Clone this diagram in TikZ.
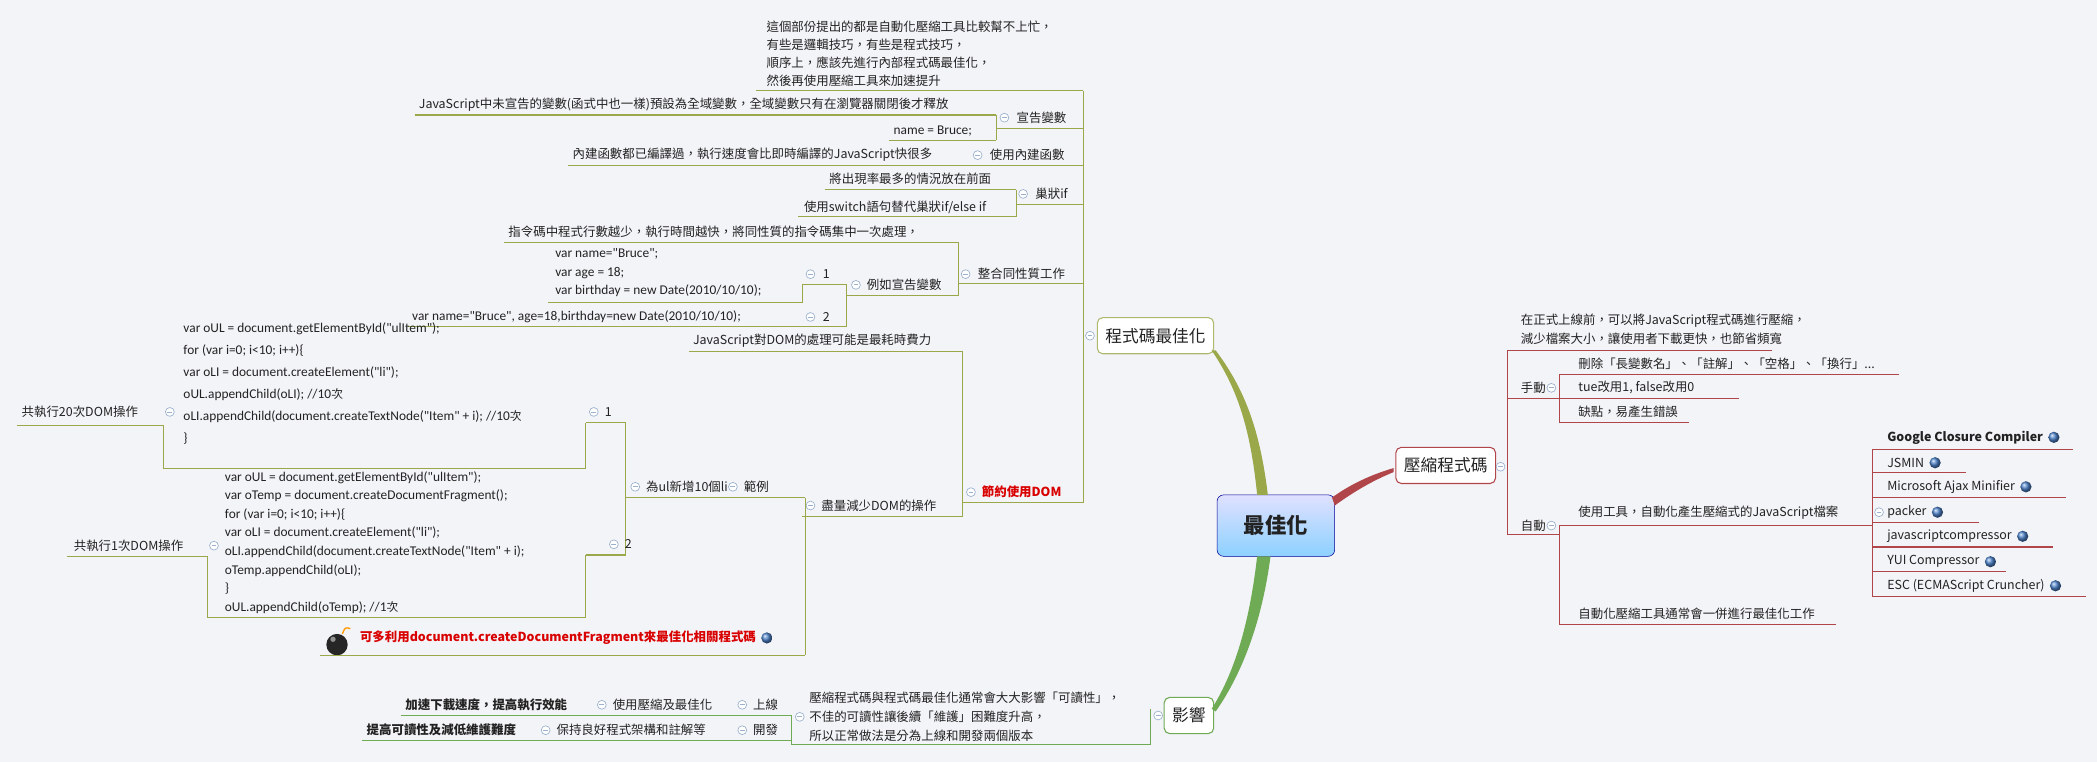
\documentclass[tikz,border=0pt]{standalone}
\usepackage{fontspec}
\setmainfont{Noto Sans CJK TC}
\newfontfamily\codef{Carlito}
\usetikzlibrary{shapes.geometric}
\definecolor{bg}{HTML}{F3F4F8}
\definecolor{olv}{HTML}{9AA84A}
\definecolor{drd}{HTML}{B0464A}
\definecolor{grn}{HTML}{6FAA55}
\definecolor{tg}{HTML}{9AB0CC}
\definecolor{txt}{HTML}{222222}
\newcommand{\dq}{\char34\relax}
\newcommand{\ci}{{\fontspec{Noto Sans CJK TC}\fontsize{8.8}{10}\selectfont 次}}
\tikzset{
 t/.style={anchor=west,inner sep=0pt,font=\fontsize{9.3}{10}\selectfont,text=txt},
 tb/.style={t,font=\fontsize{9.3}{10}\selectfont\bfseries},
 code/.style={t,align=left,font=\codef\fontsize{10}{14}\selectfont},
 ol/.style={draw=olv,line width=0.8pt},
 rl/.style={draw=drd,line width=0.8pt},
 gl/.style={draw=grn,line width=0.8pt},
 topic/.style={draw,rounded corners=4pt,fill=white,line width=0.8pt,minimum height=27pt,inner xsep=6pt,font=\fontsize{12.5}{14}\selectfont,text=txt},
}
\newcommand{\tog}[2]{\draw[tg,fill=white,line width=0.5pt] (#1,#2) circle (3.3);\draw[tg,line width=0.6pt] (#1-1.8,#2)--(#1+1.8,#2);}
\newcommand{\globeat}[1]{\shade[ball color=teal!60!blue!70] ([xshift=8pt]#1.east) circle (4.2);}
\begin{document}
\begin{tikzpicture}[x=1pt,y=-1pt]
\useasboundingbox[fill=bg] (0,0) rectangle (1568,570);
% central
\node[draw=blue!60!black,rounded corners=5pt,top color=blue!12,bottom color=blue!40!cyan!45,minimum width=88pt,minimum height=46pt,font=\fontsize{16}{18}\selectfont\bfseries,text=txt] (root) at (954,393) {最佳化};
\node[topic,draw=olv!80] (opt) at (864,251) {程式碼最佳化};
\node[topic,draw=drd] (cmp) at (1081,348) {壓縮程式碼};
\node[topic,draw=grn] (imp) at (889,535) {影響};
\fill[olv] (940,370) .. controls (935,320) and (925,290) .. (906,262) -- (909,262) .. controls (930,290) and (942,320) .. (948,370) -- cycle;
\fill[drd] (996,372) .. controls (1010,362) and (1025,355) .. (1042,350) -- (1042,353) .. controls (1025,360) and (1012,368) .. (998,378) -- cycle;
\fill[grn] (940,416) .. controls (935,460) and (925,500) .. (906,530) -- (909,532) .. controls (930,502) and (944,462) .. (950,416) -- cycle;

% ---------- 程式碼最佳化 branch ----------
\draw[ol] (810,68)--(810,376);
\tog{815}{251}
\node[t,align=left,font=\fontsize{9.3}{13.5}\selectfont] (note1) at (573,40) {這個部份提出的都是自動化壓縮工具比較幫不上忙，\\有些是邏輯技巧，有些是程式技巧，\\順序上，應該先進行內部程式碼最佳化，\\然後再使用壓縮工具來加速提升};
\draw[ol] (565,68)--(810,68);
% 宣告變數
\tog{751}{88}
\node[t] (decl) at (760,88) {宣告變數};
\draw[ol] (745,96)--(810,96);
\draw[ol] (745,86)--(745,105);
\node[t] (jsvar) at (313,78) {JavaScript中未宣告的變數(函式中也一樣)預設為全域變數，全域變數只有在瀏覽器關閉後才釋放};
\draw[ol] (310,86)--(745,86);
\node[code] (nameb) at (668,98) {name = Bruce;};
\draw[ol] (665,105)--(745,105);
% 使用內建函數
\tog{731}{116}
\node[t] (builtin) at (740,116) {使用內建函數};
\node[t] (bt1) at (428,116) {內建函數都已編譯過，執行速度會比即時編譯的JavaScript快很多};
\draw[ol] (425,124)--(810,124);
% 巢狀if
\tog{765}{145}
\node[t] (nif) at (774,145) {巢狀if};
\draw[ol] (760,153)--(810,153);
\draw[ol] (760,142)--(760,162);
\node[t] (if1) at (620,134) {將出現率最多的情況放在前面};
\draw[ol] (617,142)--(760,142);
\node[t] (if2) at (601,155) {使用switch語句替代巢狀if/else if};
\draw[ol] (597,162)--(760,162);
% 整合同性質工作
\tog{722}{205}
\node[t] (same) at (731,205) {整合同性質工作};
\draw[ol] (717,212)--(810,212);
\draw[ol] (717,181)--(717,221);
\node[t] (s1) at (380,173) {指令碼中程式行數越少，執行時間越快，將同性質的指令碼集中一次處理，};
\draw[ol] (377,181)--(717,181);
\tog{640}{213}
\node[t] (ex) at (648,213) {例如宣告變數};
\draw[ol] (633,221)--(717,221);
\draw[ol] (633,213)--(633,244);
\tog{606}{205}
\node[t] (e1) at (615,205) {1};
\draw[ol] (600,213)--(633,213);
\node[code] (c1) at (415,204) {var name=\dq Bruce\dq;\\var age = 18;\\var birthday = new Date(2010/10/10);};
\draw[ol] (410,226)--(600,226)--(600,213);
\tog{606}{237}
\node[t] (e2) at (615,237) {2};
\draw[ol] (600,244)--(633,244);
\node[code] (c2) at (308,237) {var name=\dq Bruce\dq, age=18,birthday=new Date(2010/10/10);};
\draw[ol] (305,244)--(600,244);
% 節約使用DOM
\draw[ol] (720,263)--(720,386);
\node[t] (dom0) at (518,255) {JavaScript對DOM的處理可能是最耗時費力};
\draw[ol] (515,263)--(720,263);
\tog{726}{368}
\node[tb,text=red!85!black] (dom) at (734,368) {節約使用DOM};
\draw[ol] (720,376)--(810,376);
\tog{606}{378}
\node[t] (less) at (614,378) {盡量減少DOM的操作};
\draw[ol] (600,386)--(720,386);
\draw[ol] (602,372)--(602,490);
\tog{548}{364}
\node[t] (fl) at (556,364) {範例};
\draw[ol] (540,372)--(602,372);
\tog{475}{364}
\node[t] (ul) at (483,364) {為ul新增10個li};
\draw[ol] (468,372)--(540,372);
\draw[ol] (468,316)--(468,415);
\tog{444}{308}
\node[t] (d1) at (452,308) {1};
\draw[ol] (438,316)--(468,316);
\node[code,font=\codef\fontsize{10}{16.5}\selectfont] (cb1) at (137,287) {var oUL = document.getElementById(\dq ulItem\dq);\\for (var i=0; i<10; i++)\{\\var oLI = document.createElement(\dq li\dq);\\ oUL.appendChild(oLI); //10\ci\\oLI.appendChild(document.createTextNode(\dq Item\dq{} + i); //10\ci\\\}};
\draw[ol] (438,316)--(438,350)--(122,350)--(122,318);
\tog{127}{308}
\node[t] (n20) at (16,308) {共執行20次DOM操作};
\draw[ol] (13,318)--(122,318);
\tog{459}{407}
\node[t] (d2) at (467,407) {2};
\draw[ol] (438,415)--(468,415);
\node[code,font=\codef\fontsize{10}{13.9}\selectfont] (cb2) at (168,405.5) {var oUL = document.getElementById(\dq ulItem\dq);\\var oTemp = document.createDocumentFragment();\\for (var i=0; i<10; i++)\{\\var oLI = document.createElement(\dq li\dq);\\oLI.appendChild(document.createTextNode(\dq Item\dq{} + i);\\ oTemp.appendChild(oLI);\\\}\\oUL.appendChild(oTemp); //1\ci};
\draw[ol] (438,415)--(438,462)--(155,462)--(155,416);
\tog{160}{408}
\node[t] (n1) at (55,408) {共執行1次DOM操作};
\draw[ol] (50,416)--(155,416);
% bomb note
\fill[black!85] (252,482) circle (8);
\fill[white,opacity=.5] (249,478) circle (2);
\draw[orange!80!yellow,line width=1pt] (256,474) .. controls (258,469) .. (262,470);
\node[tb,text=red!85!black] (frag) at (269,477) {可多利用document.createDocumentFragment來最佳化相關程式碼};
\globeat{frag}
\draw[ol] (239,490)--(602,490);

% ---------- 壓縮程式碼 branch ----------
\tog{1122}{349}
\draw[rl] (1127,262)--(1127,400);
\node[t,align=left,font=\fontsize{9.3}{14}\selectfont] (cn) at (1137,246) {在正式上線前，可以將JavaScript程式碼進行壓縮，\\減少檔案大小，讓使用者下載更快，也節省頻寬};
\draw[rl] (1127,262)--(1325,262);
\node[t] (man) at (1137,290) {手動};
\tog{1160}{290}
\draw[rl] (1127,298)--(1166,298);
\draw[rl] (1166,280)--(1166,316);
\node[t] (m1) at (1180,272) {刪除「長變數名」、「註解」、「空格」、「換行」...};
\draw[rl] (1166,280)--(1420,280);
\node[t] (m2) at (1180,290) {tue改用1, false改用0};
\draw[rl] (1166,298)--(1300,298);
\node[t] (m3) at (1180,308) {缺點，易產生錯誤};
\draw[rl] (1166,316)--(1263,316);
\node[t] (auto) at (1137,393) {自動};
\tog{1160}{393}
\draw[rl] (1127,400)--(1166,400);
\draw[rl] (1166,393)--(1166,467);
\node[t] (a1) at (1180,383) {使用工具，自動化產生壓縮式的JavaScript檔案};
\tog{1405}{383}
\draw[rl] (1166,393)--(1400,393);
\draw[rl] (1400,336)--(1400,446);
\node[tb] (g1) at (1411,327) {Google Closure Compiler};
\globeat{g1}
\draw[rl] (1400,336)--(1550,336);
\node[t] (g2) at (1411,346) {JSMIN};
\globeat{g2}
\draw[rl] (1400,353)--(1470,353);
\node[t] (g3) at (1411,364) {Microsoft Ajax Minifier};
\globeat{g3}
\draw[rl] (1400,372)--(1545,372);
\node[t] (g4) at (1411,383) {packer};
\globeat{g4}
\draw[rl] (1400,391)--(1480,391);
\node[t] (g5) at (1411,401) {javascriptcompressor};
\globeat{g5}
\draw[rl] (1400,409)--(1535,409);
\node[t] (g6) at (1411,420) {YUI Compressor};
\globeat{g6}
\draw[rl] (1400,427)--(1500,427);
\node[t] (g7) at (1411,438) {ESC (ECMAScript Cruncher)};
\globeat{g7}
\draw[rl] (1400,446)--(1560,446);
\node[t] (a2) at (1180,459) {自動化壓縮工具通常會一併進行最佳化工作};
\draw[rl] (1166,467)--(1373,467);

% ---------- 影響 branch ----------
\tog{866}{535}
\draw[gl] (860,530)--(860,557);
\node[t,align=left,font=\fontsize{9.3}{14}\selectfont] (in) at (605,536) {壓縮程式碼與程式碼最佳化通常會大大影響「可讀性」，\\不佳的可讀性讓後續「維護」困難度升高，\\所以正常做法是分為上線和開發兩個版本};
\draw[gl] (592,557)--(860,557);
\tog{598}{536}
\draw[gl] (592,535)--(592,557);
\tog{555}{527}
\node[t] (on) at (563,527) {上線};
\tog{450}{527}
\node[t] (on1) at (458,527) {使用壓縮及最佳化};
\node[tb] (on2) at (303,527) {加速下載速度，提高執行效能};
\draw[gl] (300,535)--(592,535);
\tog{555}{546}
\node[t] (dev) at (563,546) {開發};
\tog{408}{546}
\node[t] (dev1) at (416,546) {保持良好程式架構和註解等};
\node[tb] (dev2) at (274,546) {提高可讀性及減低維護難度};
\draw[gl] (271,554)--(592,554);
\end{tikzpicture}
\end{document}
